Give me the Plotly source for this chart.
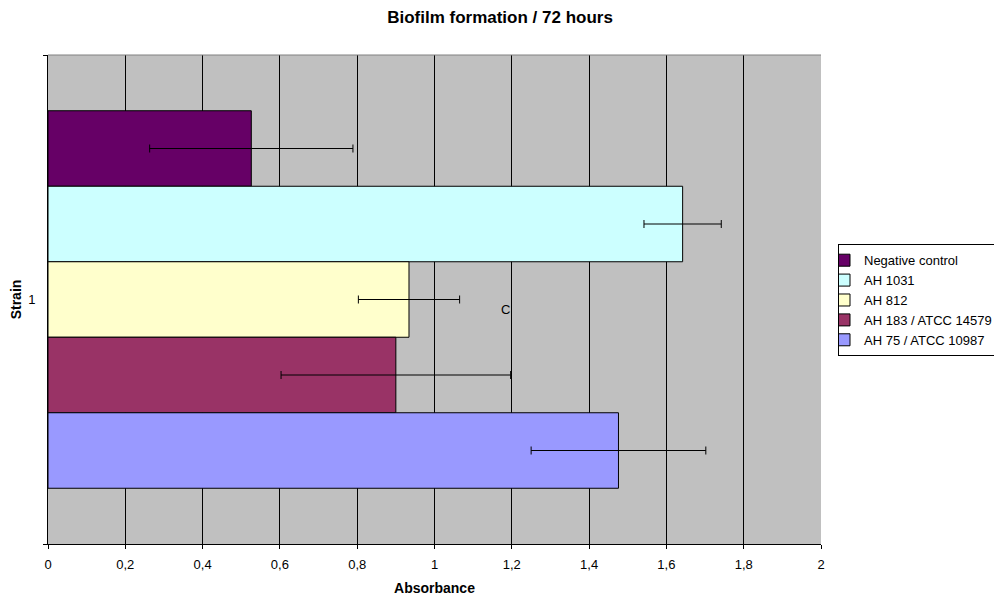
import plotly.graph_objects as go

categories = [1]
series_names = ["Negative control", "AH 1031", "AH 812", "AH 183 / ATCC 14579", "AH 75 / ATCC 10987"]
series_values = [0.526, 1.642, 0.934, 0.900, 1.476]
series_errors = [0.263, 0.100, 0.131, 0.297, 0.226]
series_colors = ["#660066", "#CCFFFF", "#FFFFCC", "#993366", "#9999FF"]
x_tick_vals = [0, 0.2, 0.4, 0.6, 0.8, 1, 1.2, 1.4, 1.6, 1.8, 2]
x_tick_text = ["0", "0,2", "0,4", "0,6", "0,8", "1", "1,2", "1,4", "1,6", "1,8", "2"]

FONT = "Liberation Sans, Arial, sans-serif"

fig = go.Figure()
for name, val, err, col in zip(series_names, series_values, series_errors, series_colors):
    fig.add_trace(go.Bar(
        name=name, y=categories, x=[val], orientation="h",
        marker=dict(color=col, line=dict(color="black", width=1)),
        error_x=dict(type="data", array=[err], color="black", thickness=1, width=4),
    ))

fig.update_layout(
    width=994, height=588,
    margin=dict(l=40, r=181, t=47, b=52, autoexpand=False),
    paper_bgcolor="white", plot_bgcolor="#C0C0C0",
    barmode="group", bargap=0.228, bargroupgap=0,
    font=dict(family=FONT, size=13, color="black"),
    title=dict(text="<b>Biofilm formation / 72 hours</b>", x=0.495, xref="container",
               y=0.985, yref="container", xanchor="center", yanchor="middle",
               font=dict(size=17)),
    legend=dict(x=1.022, y=0.613, xanchor="left", yanchor="top",
                bordercolor="black", borderwidth=1, bgcolor="white",
                font=dict(size=13), tracegroupgap=0, indentation=-15,
                itemwidth=30),
    showlegend=True,
)

fig.update_xaxes(
    range=[0, 2], tickvals=x_tick_vals, ticktext=x_tick_text,
    showgrid=True, gridcolor="black", gridwidth=1,
    ticks="outside", ticklen=4, tickcolor="black", ticklabelstandoff=4,
    showline=True, linecolor="black", linewidth=1,
    zeroline=False, automargin=False,
    title=dict(text="<b>Absorbance</b>", font=dict(size=14), standoff=12),
    tickfont=dict(size=13),
)
fig.update_yaxes(
    range=[1.5, 0.5], tickvals=[1], ticktext=["1"], ticks="",
    showgrid=False, zeroline=False, automargin=False,
    showline=True, linecolor="black", linewidth=1, ticklabelstandoff=9,
    minor=dict(tickvals=[0.5, 1.5], ticks="outside", ticklen=4, tickcolor="black", showgrid=False),
    title=dict(text="<b>Strain</b>", font=dict(size=14), standoff=5),
    tickfont=dict(size=13),
)

fig.add_shape(type="line", xref="paper", yref="paper", x0=0, x1=1, y0=1, y1=1,
              line=dict(color="#808080", width=1))

fig.add_annotation(text="C", x=1.184, y=1.021, xref="x", yref="y",
                   showarrow=False, font=dict(size=13))

fig.write_html("out.html")
